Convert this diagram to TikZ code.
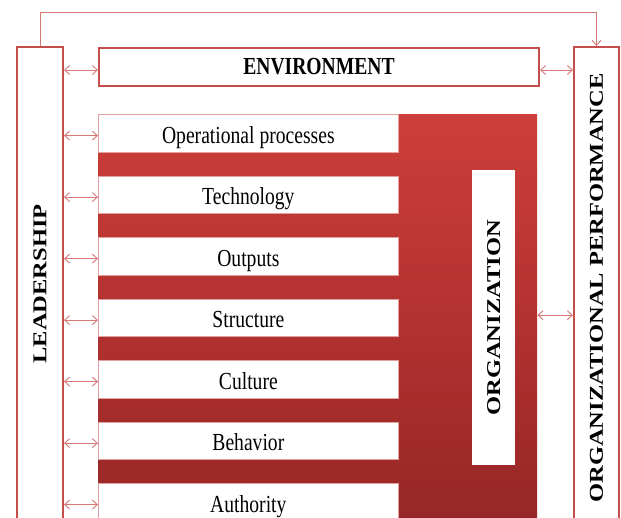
\documentclass[tikz,border=0pt]{standalone}
\usepackage{fontspec}
\setmainfont{Liberation Serif}
\usetikzlibrary{arrows.meta}
\definecolor{boxred}{RGB}{196,78,75}
\definecolor{arrred}{RGB}{214,120,118}
\definecolor{filltop}{RGB}{206,62,58}
\definecolor{fillbot}{RGB}{150,38,38}
\newcommand{\htext}[1]{\scalebox{0.8}[1]{#1}}
\newcommand{\vtext}[1]{\rotatebox{90}{\scalebox{1}[0.8]{#1}}}
\newcommand{\lblfont}{\fontsize{24.5}{28}\selectfont}
\tikzset{
  outerbox/.style={draw=boxred, line width=2pt, fill=white, inner sep=0pt, anchor=north west, font=\lblfont\bfseries},
  itembox/.style={draw=arrred!70, line width=0.7pt, fill=white, inner sep=0pt, anchor=north west,
                  minimum width=300pt, minimum height=37.5pt, font=\lblfont, text height=21pt, text depth=1pt},
  biarrow/.style={draw=arrred, line width=0.9pt, {Straight Barb[length=5pt,width=9pt]}-{Straight Barb[length=5pt,width=9pt]}},
  oneline/.style={draw=arrred, line width=0.9pt, -{Straight Barb[length=5pt,width=9pt]}}
}
\begin{document}
\begin{tikzpicture}[x=1pt,y=-1pt]
\path[use as bounding box] (0,0) rectangle (621,517);
\clip (0,0) rectangle (621,517);

% leadership
\node[outerbox, minimum width=46pt, minimum height=474pt] (lead) at (16,46) {\vtext{LEADERSHIP}};
% environment
\node[outerbox, minimum width=440pt, minimum height=38pt] (env) at (98,47) {\htext{ENVIRONMENT}};
% performance
\node[outerbox, minimum width=45pt, minimum height=482pt] (perf) at (573,46) {\vtext{ORGANIZATIONAL PERFORMANCE}};

% organization block
\node[draw=none, top color=filltop, bottom color=fillbot, inner sep=0pt, anchor=north west,
      minimum width=439pt, minimum height=411pt] (org) at (98,114) {};

% items
\node[itembox] (op)   at (98,114)   {\htext{Operational processes}};
\node[itembox] (tech) at (98,175.5) {\htext{Technology}};
\node[itembox] (outp) at (98,237)   {\htext{Outputs}};
\node[itembox] (str)  at (98,298.5) {\htext{Structure}};
\node[itembox] (cult) at (98,360)   {\htext{Culture}};
\node[itembox] (beh)  at (98,421.5) {\htext{Behavior}};
\node[itembox] (auth) at (98,483)   {\htext{Authority}};

% organization label
\node[itembox, draw=none, minimum width=43pt, minimum height=295pt, text height=, text depth=, font=\lblfont\bfseries] (orgl) at (472,170) {\vtext{ORGANIZATION}};

% arrows leadership -> boxes
\draw[biarrow] ([yshift=-3pt]env.west -| lead.east) -- ([yshift=-3pt]env.west);
\foreach \n in {op,tech,outp,str,cult,beh,auth}{
  \draw[biarrow] ([yshift=-2.5pt]\n.west -| lead.east) -- ([yshift=-2.5pt]\n.west);
}
% environment -> performance
\draw[biarrow] ([yshift=-3pt]env.east) -- ([yshift=-3pt]env.east -| perf.west);
% organization -> performance
\draw[biarrow] ([yshift=4.5pt]org.east) -- ([yshift=4.5pt]org.east -| perf.west);
% top feedback line
\draw[oneline] (lead.north) -- ++(0,-34) -| (perf.north);
\end{tikzpicture}
\end{document}
